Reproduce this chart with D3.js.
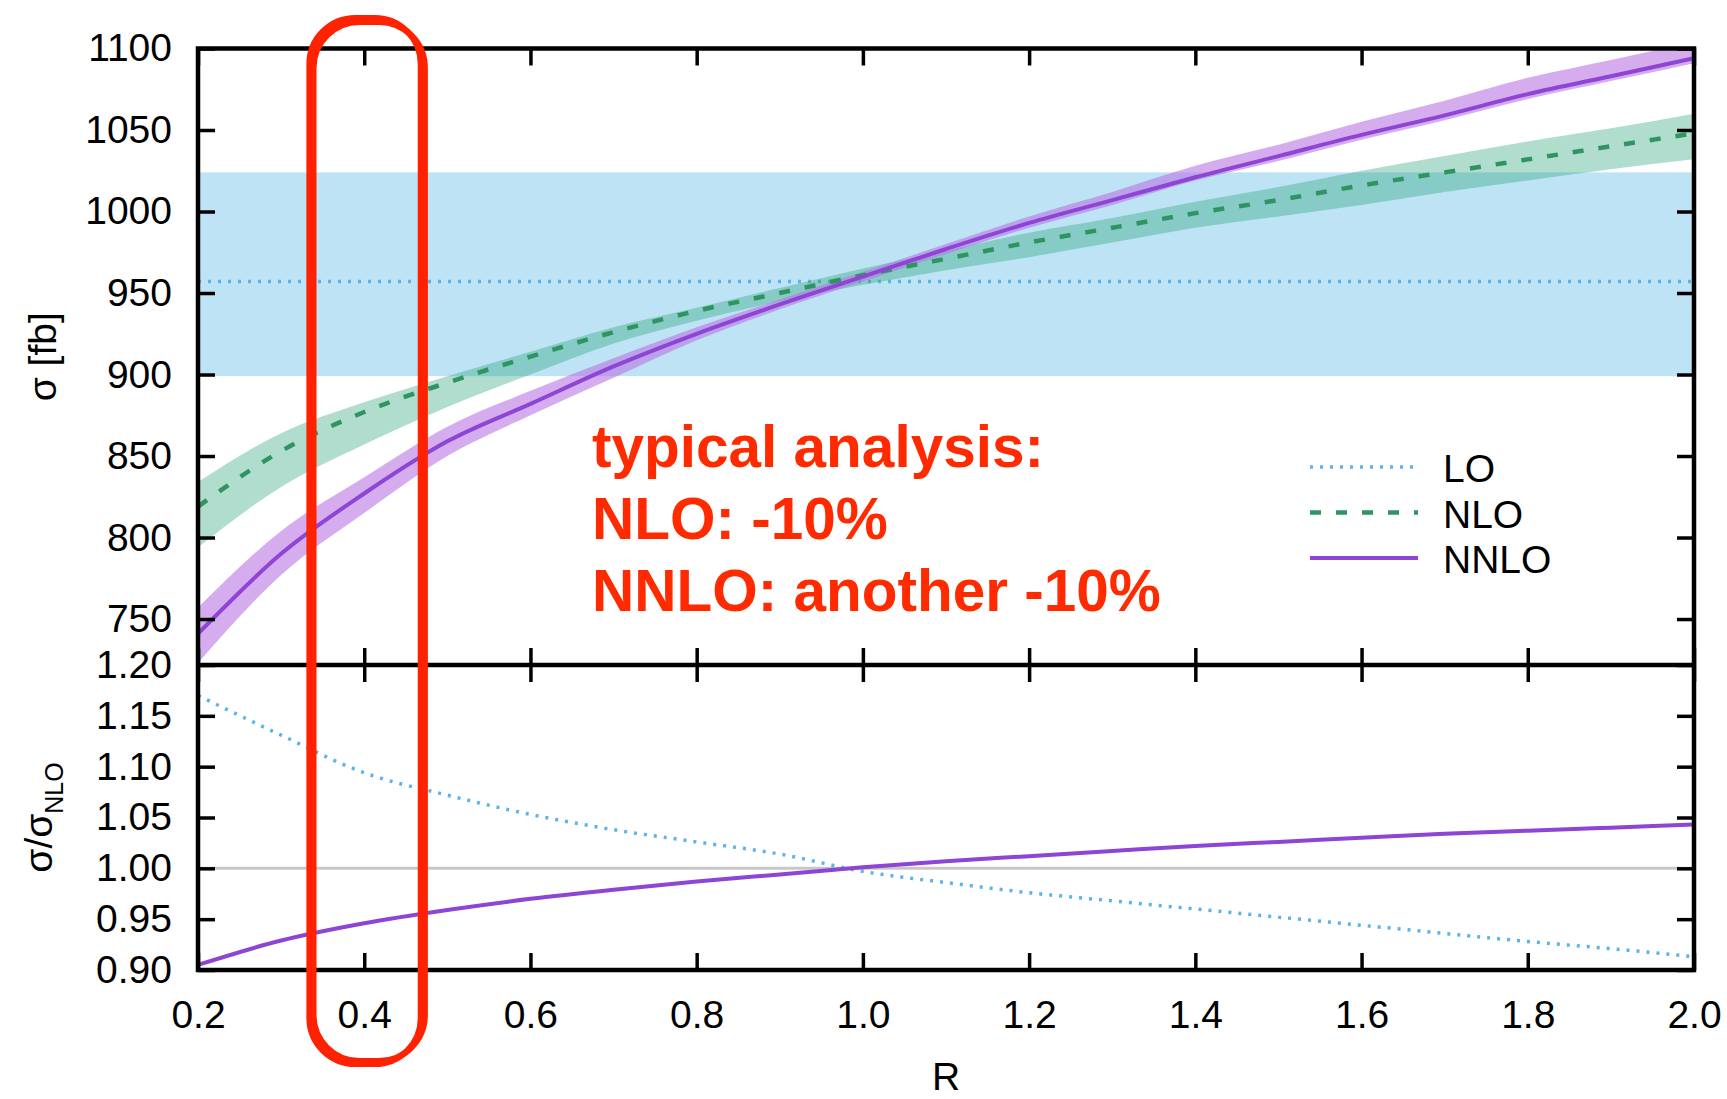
<!DOCTYPE html>
<meta charset="utf-8">
<style>
body {
  margin: 0;
  background: #fff;
  font-family: 'Liberation Sans', Arial, Helvetica, sans-serif;
}
.tick text {
  font-family: 'Liberation Sans', Arial, Helvetica, sans-serif;
  font-size: 39px;
  fill: #000;
}
.tick line {
  stroke: #000;
  stroke-width: 3.5;
}
.frame {
  fill: none;
  stroke: #000;
  stroke-width: 4.5;
}
.legend text {
  font-size: 39px;
}
.note {
  font-size: 58.5px;
  font-weight: bold;
  fill: #ff2a00;
}
</style>
<body>
<svg width="1727" height="1099"></svg>
<script src="https://d3js.org/d3.v7.min.js"></script>
<script>

// R values (jet radius)
var R = [0.2, 0.3, 0.4, 0.5, 0.6, 0.7, 0.8, 0.9, 1.0, 1.1, 1.2, 1.3, 1.4, 1.5, 1.6, 1.7, 1.8, 1.9, 2.0];

// LO is flat in R
var loSigma = 957;
var loBand = [899, 1024];

var nloSigma = [819, 853, 877, 895, 911, 926, 939, 950, 961, 971, 981, 990, 999, 1007, 1016, 1024, 1032, 1040, 1048];
var nloLow   = [794, 831, 857, 880, 900, 919, 933, 945, 955, 964, 972, 981, 990, 997, 1004, 1012, 1019, 1026, 1032];
var nloHigh  = [834, 864, 883, 899, 914, 929, 941, 953, 965, 976, 987, 996, 1006, 1015, 1025, 1034, 1043, 1051, 1060];

var nnloSigma = [741, 790, 827, 859, 882, 905, 925, 943, 960, 977, 993, 1007, 1021, 1034, 1047, 1059, 1072, 1083, 1094];
var nnloLow   = [723, 777, 815, 850, 875, 898, 921, 940, 957, 974, 990, 1004, 1019, 1031, 1044, 1056, 1069, 1080, 1091];
var nnloHigh  = [757, 804, 837, 868, 890, 910, 929, 946, 963, 980, 997, 1012, 1028, 1041, 1055, 1068, 1082, 1093, 1104];

// ratio panel, sigma / sigma_NLO
var ratioLO   = [1.170, 1.131, 1.094, 1.072, 1.053, 1.038, 1.026, 1.014, 0.997, 0.986, 0.976, 0.968, 0.960, 0.952, 0.944, 0.936, 0.928, 0.921, 0.913];
var ratioNNLO = [0.905, 0.929, 0.946, 0.959, 0.970, 0.979, 0.987, 0.994, 1.001, 1.007, 1.012, 1.017, 1.022, 1.026, 1.030, 1.034, 1.037, 1.040, 1.043];

var xTicks = [0.2, 0.4, 0.6, 0.8, 1.0, 1.2, 1.4, 1.6, 1.8, 2.0];
var yTopTicks = [750, 800, 850, 900, 950, 1000, 1050, 1100];
var yBotTicks = [0.90, 0.95, 1.00, 1.05, 1.10, 1.15, 1.20];

var legendNames = ["LO", "NLO", "NNLO"];
var noteLines = ["typical analysis:", "NLO: -10%", "NNLO: another -10%"];

var loColor = "#5ab4e6",
    nloColor = "#2f9462",
    nnloColor = "#8e44d4";

var pL = 198, pR = 1694, pT = 48.5, pM = 665, pB = 970;

var x = d3.scaleLinear().domain([0.2, 2.0]).range([pL, pR]);
var yTop = d3.scaleLinear().domain([721.8, 1100]).range([pM, pT]);
var yBot = d3.scaleLinear().domain([0.90, 1.20]).range([pB, pM]);

var svg = d3.select("svg");

var defs = svg.append("defs");
defs.append("clipPath").attr("id", "clipTop")
  .append("rect").attr("x", pL).attr("y", pT).attr("width", pR - pL).attr("height", pM - pT);
defs.append("clipPath").attr("id", "clipBot")
  .append("rect").attr("x", pL).attr("y", pM).attr("width", pR - pL).attr("height", pB - pM);

var rows = R.map(function(r, i) {
  return {r: r, nlo: nloSigma[i], nloLo: nloLow[i], nloHi: nloHigh[i],
          nnlo: nnloSigma[i], nnloLo: nnloLow[i], nnloHi: nnloHigh[i],
          rLO: ratioLO[i], rNNLO: ratioNNLO[i]};
});

// ---- upper panel
var gTop = svg.append("g").attr("clip-path", "url(#clipTop)");

gTop.append("rect")
  .attr("x", x(0.2)).attr("width", x(2.0) - x(0.2))
  .attr("y", yTop(loBand[1])).attr("height", yTop(loBand[0]) - yTop(loBand[1]))
  .style("fill", "#bee3f5");

gTop.append("line")
  .attr("x1", x(0.2)).attr("x2", x(2.0))
  .attr("y1", yTop(loSigma)).attr("y2", yTop(loSigma))
  .style("stroke", loColor).style("stroke-width", 3.5).style("stroke-dasharray", "3,7");

var curve = d3.curveMonotoneX;

gTop.append("path")
  .datum(rows)
  .attr("d", d3.area().curve(curve).x(function(d) { return x(d.r); })
    .y0(function(d) { return yTop(d.nloLo); }).y1(function(d) { return yTop(d.nloHi); }))
  .style("fill", "rgb(41,163,120)").style("fill-opacity", 0.37);

gTop.append("path")
  .datum(rows)
  .attr("d", d3.area().curve(curve).x(function(d) { return x(d.r); })
    .y0(function(d) { return yTop(d.nnloLo); }).y1(function(d) { return yTop(d.nnloHi); }))
  .style("fill", "rgb(185,117,227)").style("fill-opacity", 0.6);

gTop.append("path")
  .datum(rows)
  .attr("d", d3.line().curve(curve).x(function(d) { return x(d.r); }).y(function(d) { return yTop(d.nlo); }))
  .style("fill", "none").style("stroke", nloColor).style("stroke-width", 4.5).style("stroke-dasharray", "11,15");

gTop.append("path")
  .datum(rows)
  .attr("d", d3.line().curve(curve).x(function(d) { return x(d.r); }).y(function(d) { return yTop(d.nnlo); }))
  .style("fill", "none").style("stroke", nnloColor).style("stroke-width", 4);

// ---- lower panel
var gBot = svg.append("g").attr("clip-path", "url(#clipBot)");

gBot.append("line")
  .attr("x1", x(0.2)).attr("x2", x(2.0))
  .attr("y1", yBot(1.0)).attr("y2", yBot(1.0))
  .style("stroke", "#c8c8c8").style("stroke-width", 3);

gBot.append("path")
  .datum(rows)
  .attr("d", d3.line().curve(curve).x(function(d) { return x(d.r); }).y(function(d) { return yBot(d.rLO); }))
  .style("fill", "none").style("stroke", loColor).style("stroke-width", 3.5).style("stroke-dasharray", "3,7");

gBot.append("path")
  .datum(rows)
  .attr("d", d3.line().curve(curve).x(function(d) { return x(d.r); }).y(function(d) { return yBot(d.rNNLO); }))
  .style("fill", "none").style("stroke", nnloColor).style("stroke-width", 4);

// ---- axes, ticks on every side pointing inwards
var tk = 17;
function clean(g) { g.select(".domain").remove(); }

svg.append("g").attr("transform", "translate(" + pL + ",0)")
  .call(d3.axisLeft(yTop).tickValues(yTopTicks).tickSize(-tk).tickPadding(26).tickFormat(d3.format("d")))
  .call(clean);
svg.append("g").attr("transform", "translate(" + pR + ",0)")
  .call(d3.axisRight(yTop).tickValues(yTopTicks).tickSize(-tk).tickFormat(""))
  .call(clean);
svg.append("g").attr("transform", "translate(0," + pT + ")")
  .call(d3.axisTop(x).tickValues(xTicks).tickSize(-tk).tickFormat(""))
  .call(clean);
svg.append("g").attr("transform", "translate(0," + pM + ")")
  .call(d3.axisBottom(x).tickValues(xTicks).tickSize(-tk).tickFormat(""))
  .call(clean);

svg.append("g").attr("transform", "translate(" + pL + ",0)")
  .call(d3.axisLeft(yBot).tickValues(yBotTicks).tickSize(-tk).tickPadding(26).tickFormat(d3.format(".2f")))
  .call(clean);
svg.append("g").attr("transform", "translate(" + pR + ",0)")
  .call(d3.axisRight(yBot).tickValues(yBotTicks).tickSize(-tk).tickFormat(""))
  .call(clean);
svg.append("g").attr("transform", "translate(0," + pM + ")")
  .call(d3.axisTop(x).tickValues(xTicks).tickSize(-tk).tickFormat(""))
  .call(clean);
svg.append("g").attr("transform", "translate(0," + pB + ")")
  .call(d3.axisBottom(x).tickValues(xTicks).tickSize(-tk).tickPadding(30).tickFormat(d3.format(".1f")))
  .call(clean);

svg.append("rect").attr("class", "frame")
  .attr("x", pL).attr("y", pT).attr("width", pR - pL).attr("height", pB - pT);
svg.append("line").attr("class", "frame")
  .attr("x1", pL).attr("x2", pR).attr("y1", pM).attr("y2", pM);

// axis titles
svg.append("text")
  .attr("transform", "translate(56," + (pT + pM) / 2 + ") rotate(-90)")
  .attr("text-anchor", "middle")
  .style("font-size", "39px")
  .text("σ [fb]");

var rt = svg.append("text")
  .attr("transform", "translate(52," + (pM + pB) / 2 + ") rotate(-90)")
  .attr("text-anchor", "middle")
  .style("font-size", "39px");
rt.append("tspan").text("σ/σ");
rt.append("tspan").attr("dy", 11).style("font-size", "25px").text("NLO");

svg.append("text")
  .attr("x", (pL + pR) / 2).attr("y", 1090)
  .attr("text-anchor", "middle")
  .style("font-size", "39px")
  .text("R");

// legend
var legend = svg.append("g").attr("class", "legend");
var legendStyles = [
  {color: loColor, dash: "3,7", w: 3.5},
  {color: nloColor, dash: "11,15", w: 4.5},
  {color: nnloColor, dash: null, w: 4}
];
legendNames.forEach(function(name, i) {
  var yy = 467 + i * 45.5;
  legend.append("line")
    .attr("x1", 1310).attr("x2", 1418).attr("y1", yy).attr("y2", yy)
    .style("stroke", legendStyles[i].color)
    .style("stroke-width", legendStyles[i].w)
    .style("stroke-dasharray", legendStyles[i].dash);
  legend.append("text")
    .attr("x", 1443).attr("y", yy + 15)
    .text(name);
});

// red annotation
noteLines.forEach(function(t, i) {
  svg.append("text").attr("class", "note")
    .attr("x", 592).attr("y", 467 + i * 72)
    .text(t);
});

var boxes = [[0.334, 0.468, 18, 1064, 6], [0.339, 0.473, 22, 1061, 6]];
boxes.forEach(function(b) {
  svg.append("rect")
    .attr("x", x(b[0])).attr("width", x(b[1]) - x(b[0]))
    .attr("y", b[2]).attr("height", b[3] - b[2])
    .attr("rx", 46).attr("ry", 46)
    .style("fill", "none")
    .style("stroke", "#ff2200")
    .style("stroke-width", b[4]);
});

</script>
</body>
